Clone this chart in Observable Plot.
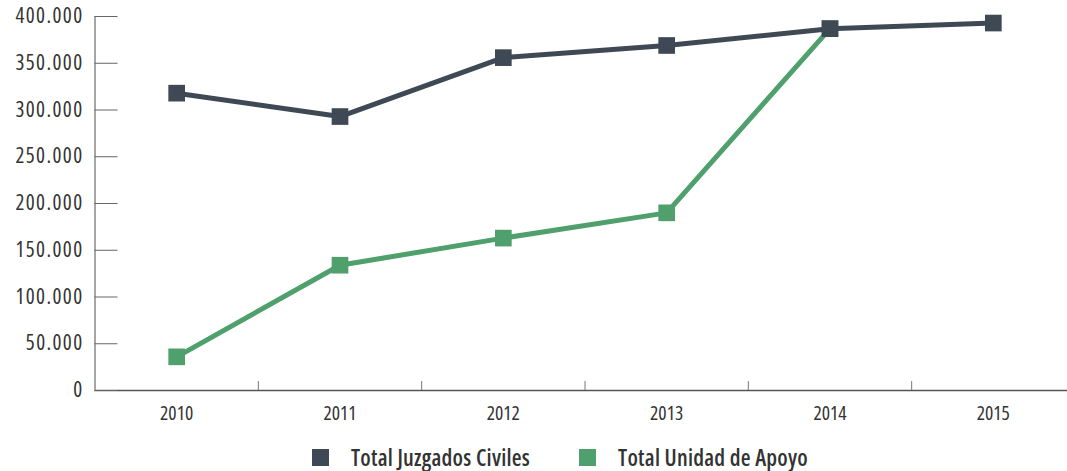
<!DOCTYPE html>
<html><head><meta charset="utf-8">
<script src="https://cdn.jsdelivr.net/npm/d3@7"></script>
<script src="https://cdn.jsdelivr.net/npm/@observablehq/plot@0.6"></script>
<style>
html,body{margin:0;padding:0;background:#fff;width:1067px;height:471px;overflow:hidden}
#wrap{position:relative;width:1067px;height:471px;font-family:"Open Sans",sans-serif}
#chart svg text{font-stretch:75%}
#chart svg g[aria-label="y-axis tick label"] text{letter-spacing:1.4px}
#legend{position:absolute;left:312px;top:447px;display:flex;align-items:center;font-weight:600;font-size:22.5px;letter-spacing:0.25px;color:#333;line-height:21px;font-stretch:75%}
.sw{width:17px;height:17px;display:inline-block;margin-right:22px}
.item{display:flex;align-items:center;margin-right:49px}
</style></head><body><div id="wrap"><div id="chart"></div><div id="legend"></div></div>
<script>
const years = [2010, 2011, 2012, 2013, 2014, 2015];
const seriesNames = ["Total Juzgados Civiles", "Total Unidad de Apoyo"];
const juzgados = [318000, 293000, 356000, 369000, 387000, 393000];
const unidad = [36000, 134000, 163000, 190000, 387000, null];
const colors = ["#3f4955", "#50a06d"];
const yTicks = [0, 50000, 100000, 150000, 200000, 250000, 300000, 350000, 400000];
const xBoundaries = [2010.5, 2011.5, 2012.5, 2013.5, 2014.5];

const rowsJ = years.map((yr, i) => ({year: yr, value: juzgados[i], series: seriesNames[0]}));
const rowsU = years.map((yr, i) => ({year: yr, value: unidad[i], series: seriesNames[1]})).filter(d => d.value != null);

const fmt = d => d3.format(",")(d).replace(/,/g, ".");
const font = '"Open Sans",sans-serif';

const chart = Plot.plot({
  width: 1067, height: 440,
  marginTop: 16, marginBottom: 50, marginLeft: 94.5, marginRight: 0,
  style: {fontFamily: font, background: "#fff"},
  x: {type: "linear", domain: [2009.5, 2015.5], range: [94.5, 1074.5], label: null},
  y: {domain: [0, 400000], label: null},
  color: {domain: seriesNames, range: colors},
  marks: [
    Plot.ruleY([0], {stroke: "#555", strokeWidth: 1.5}),
    Plot.ruleX([2009.5], {stroke: "#888", strokeWidth: 1.5}),
    Plot.axisY(yTicks, {tickSize: -23, tickFormat: () => "", stroke: "#666", label: null}),
    Plot.axisY(yTicks, {tickSize: 0, tickPadding: 11.5, tickFormat: fmt, fontSize: 21, color: "#333", label: null}),
    Plot.axisX(xBoundaries, {tickSize: -9, tickFormat: () => "", stroke: "#777", label: null}),
    Plot.axisX(years, {tickSize: 0, tickPadding: 16, tickFormat: d => String(d), fontSize: 19.5, color: "#333", label: null}),
    Plot.line(rowsU, {x: "year", y: "value", stroke: "series", strokeWidth: 5}),
    Plot.dot(rowsU, {x: "year", y: "value", fill: "series", symbol: "square", r: 9.4}),
    Plot.line(rowsJ, {x: "year", y: "value", stroke: "series", strokeWidth: 5}),
    Plot.dot(rowsJ, {x: "year", y: "value", fill: "series", symbol: "square", r: 9.4})
  ]
});
document.getElementById("chart").appendChild(chart);

const legend = document.getElementById("legend");
seriesNames.forEach((name, i) => {
  const item = document.createElement("div");
  item.className = "item";
  const sw = document.createElement("span");
  sw.className = "sw";
  sw.style.background = colors[i];
  const label = document.createElement("span");
  label.textContent = name;
  item.appendChild(sw);
  item.appendChild(label);
  legend.appendChild(item);
});
</script>
</body></html>
